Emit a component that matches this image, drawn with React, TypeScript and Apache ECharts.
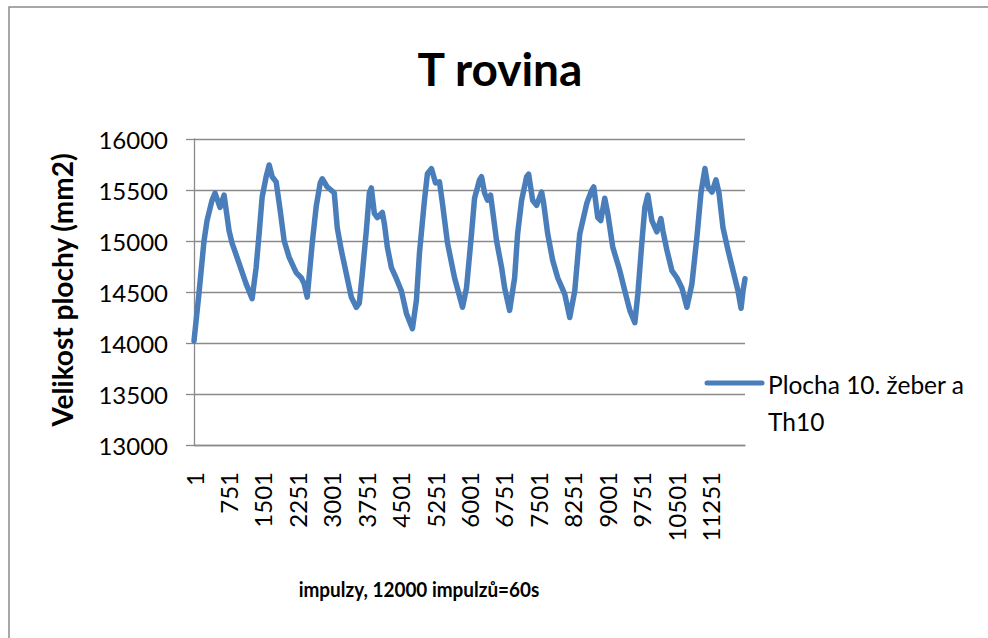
import React, { useEffect, useRef } from "react";
import * as echarts from "echarts";

const titleText = "T rovina";
const yAxisTitle = "Velikost plochy (mm2)";
const xAxisTitle = "impulzy, 12000 impulzů=60s";
const seriesName = "Plocha 10. žeber a Th10";
const legendText = "Plocha 10. žeber a\nTh10";

// impulse index (x) and area value (y)
const impulses = [
  0, 109, 218, 284, 393, 458, 567, 655, 764, 829, 982, 1135, 1266, 1353, 1418, 1484, 1571, 1637, 1702, 1789,
  1877, 1964, 2073, 2226, 2335, 2400, 2466, 2575, 2662, 2749, 2793, 2902, 2983, 3055, 3120, 3208, 3317, 3426,
  3535, 3600, 3666, 3753, 3819, 3862, 3928, 3993, 4102, 4146, 4211, 4299, 4408, 4517, 4626, 4757, 4844, 4910,
  5019, 5084, 5171, 5259, 5346, 5411, 5521, 5674, 5848, 5935, 6044, 6110, 6219, 6262, 6328, 6393, 6459, 6503,
  6590, 6699, 6765, 6874, 6983, 7048, 7135, 7244, 7288, 7375, 7462, 7571, 7615, 7703, 7812, 7921, 8074, 8183,
  8292, 8401, 8554, 8663, 8706, 8794, 8859, 8946, 9011, 9120, 9273, 9383, 9492, 9601, 9666, 9753, 9819, 9884,
  9972, 10081, 10168, 10212, 10299, 10408, 10517, 10626, 10735, 10844, 10953, 11041, 11128, 11194, 11281,
  11368, 11434, 11521, 11630, 11739, 11848, 11914, 11957, 12000,
];
const areaValues = [
  14020, 14490, 15000, 15200, 15400, 15470, 15330, 15450, 15100, 14980, 14780, 14580, 14435, 14740, 15070,
  15430, 15630, 15745, 15630, 15580, 15300, 15000, 14840, 14690, 14640, 14580, 14450, 14980, 15340, 15570,
  15610, 15530, 15500, 15470, 15130, 14910, 14680, 14450, 14350, 14390, 14680, 15100, 15470, 15520, 15270,
  15230, 15280, 15170, 14940, 14740, 14630, 14510, 14290, 14140, 14420, 14880, 15400, 15660, 15710, 15570,
  15580, 15370, 14980, 14640, 14350, 14540, 15070, 15420, 15600, 15630, 15470, 15400, 15450, 15300, 15000,
  14740, 14540, 14320, 14640, 15070, 15400, 15630, 15655, 15400, 15350, 15480, 15370, 15070, 14810, 14640,
  14480, 14250, 14510, 15070, 15370, 15500, 15530, 15230, 15200, 15420, 15270, 14940, 14710, 14510, 14320,
  14200, 14480, 14980, 15330, 15450, 15200, 15090, 15220, 15100, 14910, 14710, 14640, 14540, 14350, 14580,
  15040, 15470, 15710, 15530, 15480, 15600, 15470, 15130, 14910, 14710, 14510, 14340, 14510, 14630,
];

const yMin = 13000;
const yMax = 16000;
const yStep = 500;
const xMin = 0;
const xMax = 12000;
const xStep = 750;

const FONT = "Lato, 'Open Sans', sans-serif";
const LINE_COLOR = "#4A7EBB";
const GRID_COLOR = "#8a8a8a";

export default function App() {
  const ref = useRef<HTMLDivElement>(null);

  useEffect(() => {
    document.body.style.margin = "0";
    const chart = echarts.init(ref.current!, undefined, { renderer: "svg" });
    const data = impulses.map((x, i) => [x, areaValues[i]]);
    chart.setOption({
      animation: false,
      backgroundColor: "#ffffff",
      textStyle: { fontFamily: FONT },
      grid: { left: 194, right: 243, top: 139, bottom: 193, containLabel: false },
      xAxis: {
        type: "value",
        min: xMin,
        max: xMax,
        interval: xStep,
        axisLine: { show: true, lineStyle: { color: GRID_COLOR, width: 1.3 } },
        axisTick: { show: false },
        splitLine: { show: false },
        axisLabel: {
          rotate: 90,
          margin: 27,
          fontSize: 24,
          color: "#000",
          fontFamily: FONT,
          showMaxLabel: false,
          formatter: (v: number) => String(v + 1),
        },
      },
      yAxis: {
        type: "value",
        min: yMin,
        max: yMax,
        interval: yStep,
        axisLine: { show: true, lineStyle: { color: GRID_COLOR, width: 1.3 } },
        axisTick: { show: true, inside: false, length: 8, lineStyle: { color: GRID_COLOR, width: 1.3 } },
        splitLine: { show: true, lineStyle: { color: GRID_COLOR, width: 1.3 } },
        axisLabel: {
          margin: 26,
          fontSize: 24,
          color: "#000",
          fontFamily: FONT,
          formatter: (v: number) => String(v),
        },
      },
      series: [
        {
          name: seriesName,
          type: "line",
          data,
          showSymbol: false,
          symbol: "none",
          lineStyle: { color: LINE_COLOR, width: 5.5, join: "round", cap: "round" },
        },
      ],
      graphic: [
        {
          type: "rect",
          shape: { x: 9, y: 7, width: 1100, height: 800 },
          style: { fill: "none", stroke: "#8a8a8a", lineWidth: 1.5 },
          silent: true,
        },
        {
          type: "text",
          x: 500,
          y: 68,
          style: {
            text: titleText,
            font: `bold 46px ${FONT}`,
            fill: "#000",
            textAlign: "center",
            verticalAlign: "middle",
          },
        },
        {
          type: "text",
          x: 62,
          y: 290,
          rotation: Math.PI / 2,
          style: {
            text: yAxisTitle,
            font: `bold 28px ${FONT}`,
            fill: "#000",
            textAlign: "center",
            verticalAlign: "middle",
          },
        },
        {
          type: "text",
          x: 419,
          y: 589,
          scaleX: 0.88,
          style: {
            text: xAxisTitle,
            font: `bold 21.5px ${FONT}`,
            fill: "#000",
            textAlign: "center",
            verticalAlign: "middle",
          },
        },
        {
          type: "line",
          shape: { x1: 707, y1: 383, x2: 762, y2: 383 },
          style: { stroke: LINE_COLOR, lineWidth: 5, lineCap: "round" },
        },
        {
          type: "text",
          x: 768,
          y: 366,
          style: {
            text: legendText,
            font: `24.5px ${FONT}`,
            lineHeight: 37,
            fill: "#000",
            textAlign: "left",
            verticalAlign: "top",
          },
        },
      ],
    });
    return () => chart.dispose();
  }, []);

  return (
    <div
      ref={ref}
      style={{ position: "absolute", left: 0, top: 0, width: 988, height: 638 }}
    />
  );
}
